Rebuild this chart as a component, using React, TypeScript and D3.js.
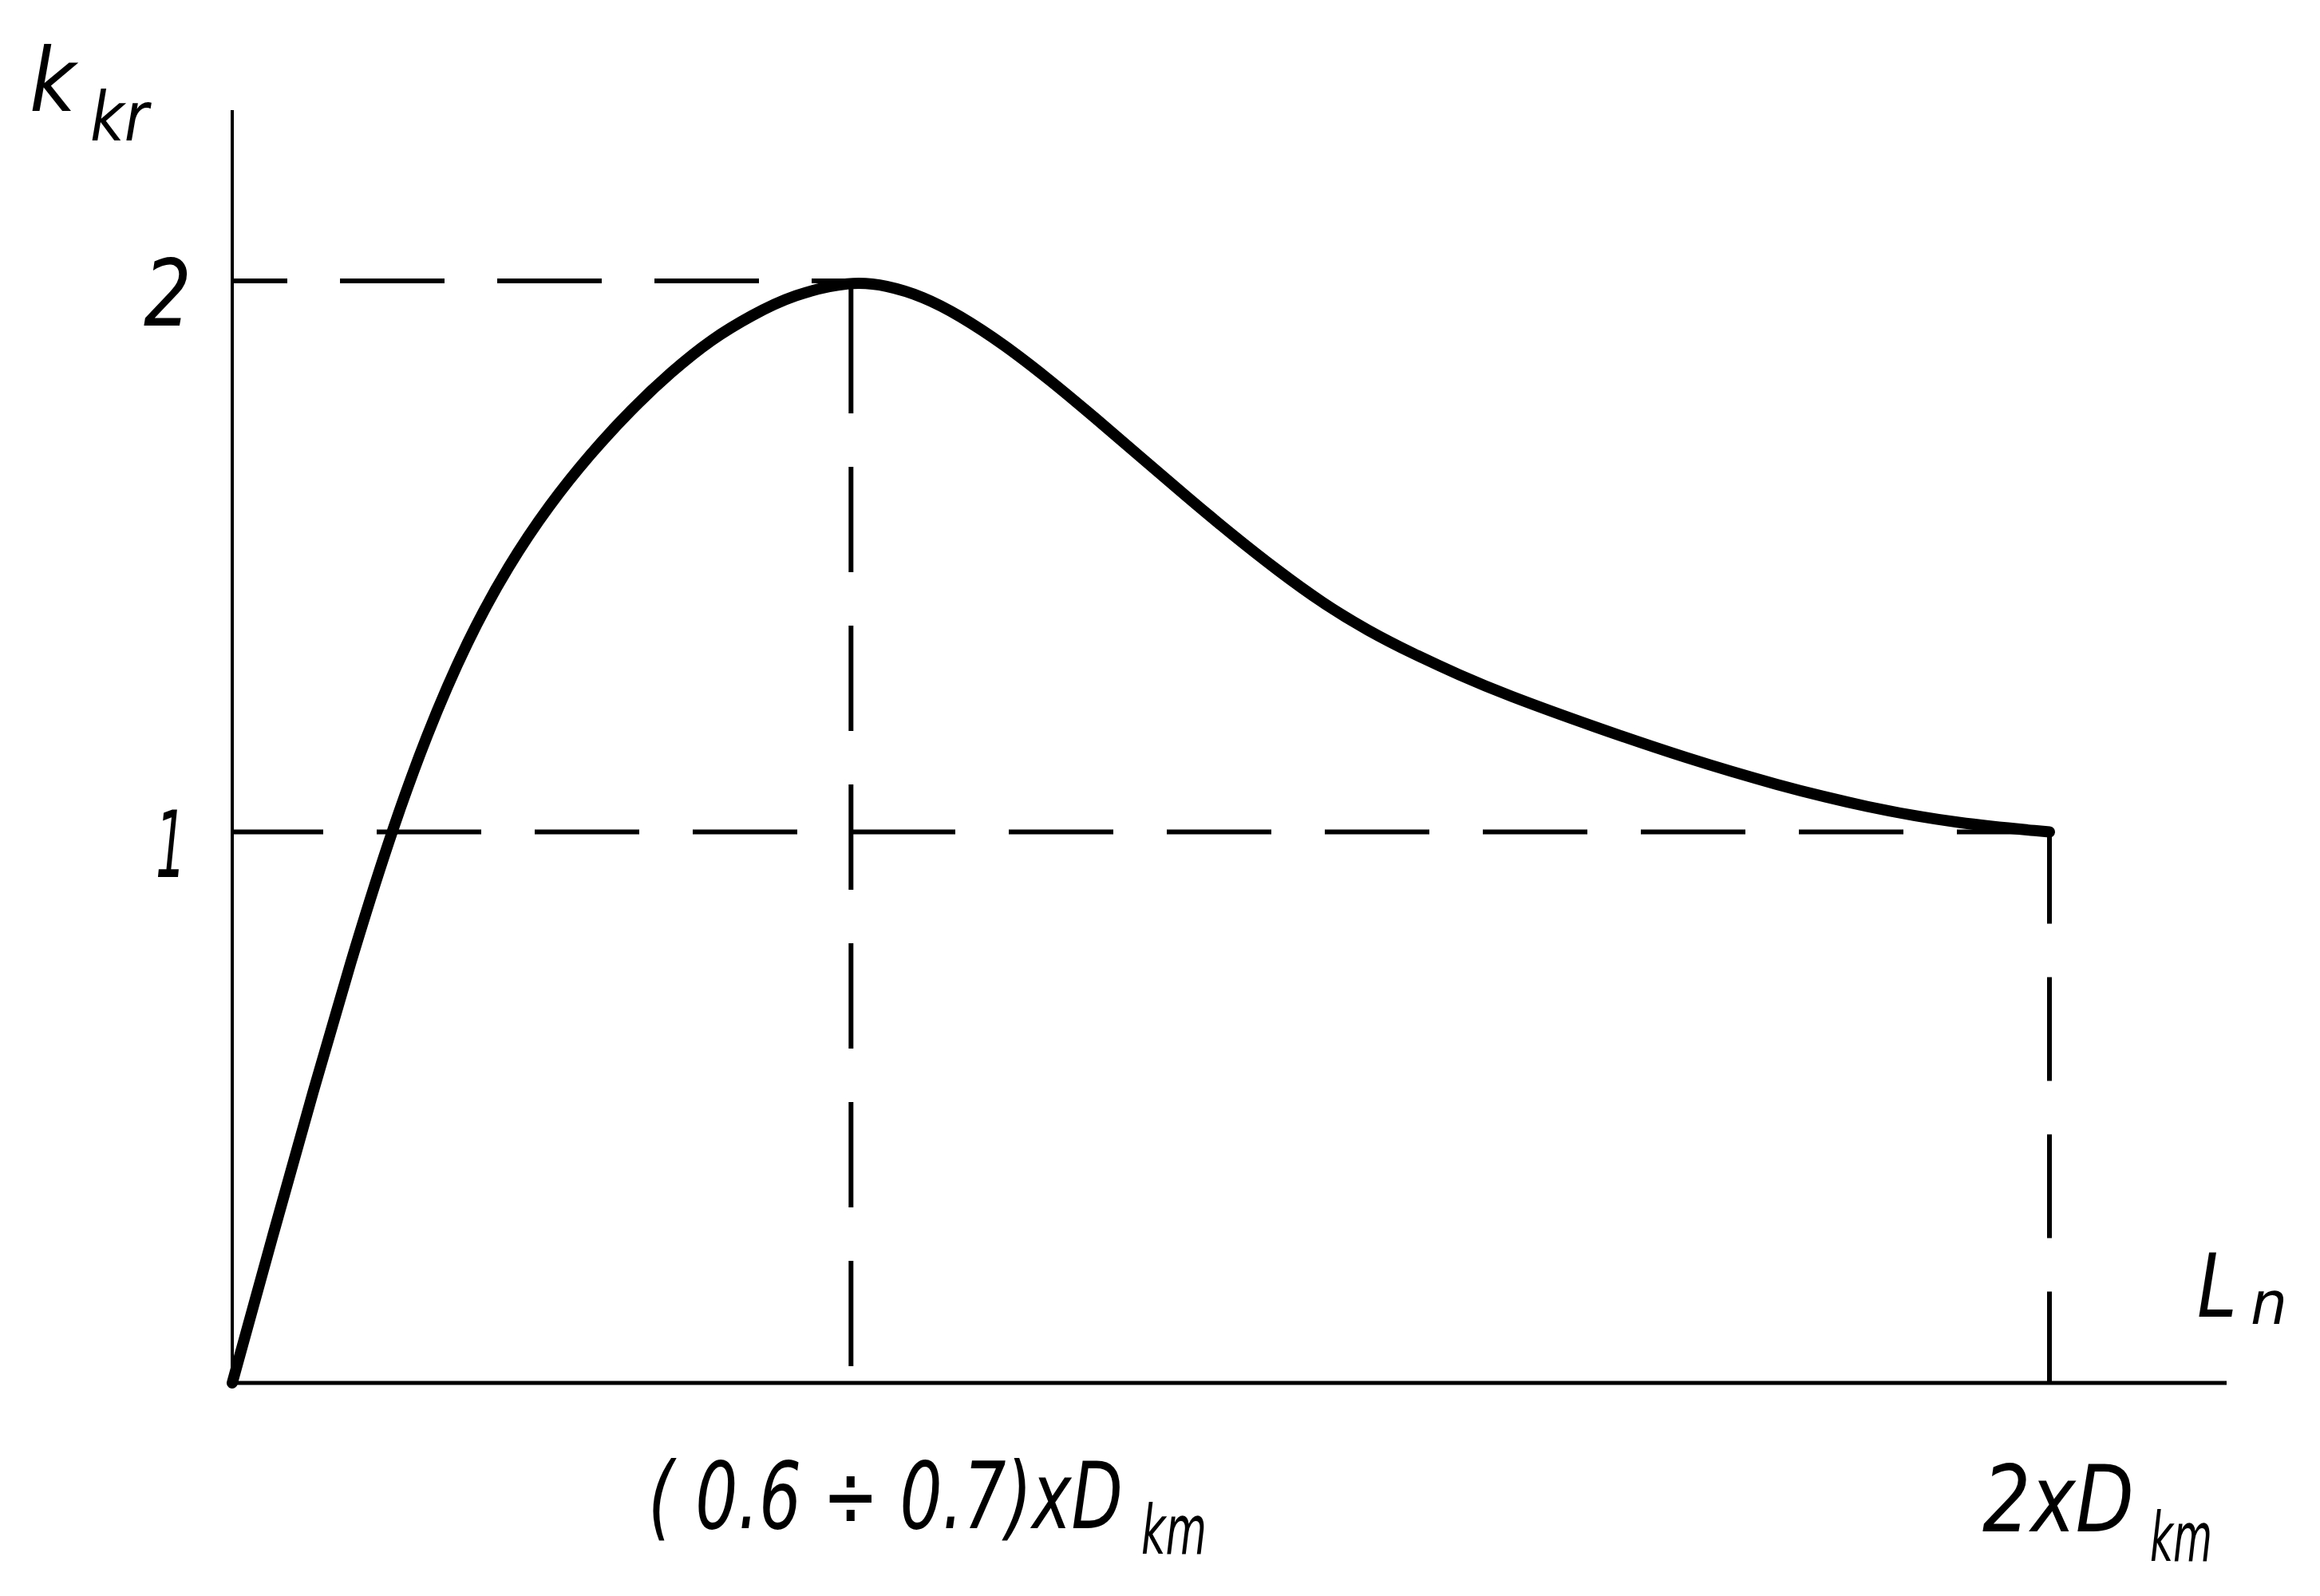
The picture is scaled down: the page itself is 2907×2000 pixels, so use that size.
import React, { useLayoutEffect, useRef, useState } from "react";
import * as d3 from "d3";

// Curve k_kr vs L_n (x in units of D_km)
const curveX = [0, 0.045, 0.09, 0.13, 0.172, 0.214, 0.259, 0.304, 0.349, 0.394, 0.438, 0.483, 0.528, 0.572, 0.617, 0.681, 0.72, 0.76, 0.8, 0.85, 0.9, 0.95, 1.0, 1.05, 1.1, 1.15, 1.2, 1.25, 1.3, 1.35, 1.4, 1.5, 1.6, 1.7, 1.8, 1.9, 2.0];
const curveY = [0, 0.27, 0.535, 0.763, 0.985, 1.178, 1.349, 1.484, 1.594, 1.686, 1.765, 1.835, 1.895, 1.938, 1.975, 2.0, 1.992, 1.972, 1.938, 1.884, 1.82, 1.751, 1.68, 1.609, 1.54, 1.475, 1.415, 1.365, 1.323, 1.285, 1.25, 1.19, 1.134, 1.085, 1.044, 1.015, 1.0];
const peakX = 0.681;
const endX = 2.0;
const yTicks = [1, 2];
const yTickLabels = ["1", "2"];

const W = 2907;
const H = 2000;

// CAD-style dash array: first dash, then gap/dash repeating
function cadDash(len: number, first: number, dash: number, gap: number): string {
  const arr: number[] = [first];
  let pos = first;
  let isGap = true;
  while (pos < len) {
    const seg = isGap ? gap : dash;
    arr.push(seg);
    pos += seg;
    isGap = !isGap;
  }
  if (arr.length % 2 === 1) arr.push(gap);
  return arr.join(" ");
}

const FONT = "'DejaVu Sans', sans-serif";

function FitText({ s, x, y, size, len }: { s: string; x: number; y: number; size: number; len: number }) {
  const ref = useRef<SVGTextElement>(null);
  const [sx, setSx] = useState(0.6);
  useLayoutEffect(() => {
    if (ref.current) {
      const w = ref.current.getComputedTextLength();
      if (w > 0) setSx(len / w);
    }
  }, [s, size, len]);
  return (
    <g transform={`translate(${x},${y}) scale(${sx},1)`}>
      <text ref={ref} x={0} y={0} fontFamily={FONT} fontStyle="italic" fontSize={size} fill="#000">
        {s}
      </text>
    </g>
  );
}

export default function App() {
  const x = d3.scaleLinear().domain([0, 2]).range([291, 2568]);
  const y = d3.scaleLinear().domain([0, 2]).range([1733, 352]);
  const xMax = 2.195;
  const yMax = 2.31;
  const pts: [number, number][] = curveX.map((v, i) => [v, curveY[i]]);
  const line = d3
    .line<[number, number]>()
    .x((d) => x(d[0]))
    .y((d) => y(d[1]))
    .curve(d3.curveBasis);
  const h2Len = x(peakX) - x(0);
  const h1Len = x(endX) - x(0);
  const vPeakLen = y(0) - y(2);
  const vEndLen = y(0) - y(1);
  const dashW = 6;
  return (
    <svg
      width={W}
      height={H}
      style={{ position: "absolute", left: 0, top: 0, background: "#fff" }}
    >
      <rect x={0} y={0} width={W} height={H} fill="#fff" />
      {/* axes */}
      <line x1={x(0)} y1={y(0)} x2={x(0)} y2={y(yMax)} stroke="#000" strokeWidth={4} />
      <line x1={x(0)} y1={y(0)} x2={x(xMax)} y2={y(0)} stroke="#000" strokeWidth={5} />
      {/* dashed guides */}
      <line x1={x(0)} y1={y(2)} x2={x(peakX)} y2={y(2)} stroke="#000" strokeWidth={dashW} strokeDasharray={cadDash(h2Len, 69, 131, 66)} />
      <line x1={x(0)} y1={y(1)} x2={x(endX)} y2={y(1)} stroke="#000" strokeWidth={dashW} strokeDasharray={cadDash(h1Len, 114, 131, 67)} />
      <line x1={x(peakX)} y1={y(2)} x2={x(peakX)} y2={y(0)} stroke="#000" strokeWidth={dashW} strokeDasharray={cadDash(vPeakLen, 166, 132, 67)} />
      <line x1={x(endX)} y1={y(1)} x2={x(endX)} y2={y(0)} stroke="#000" strokeWidth={dashW} strokeDasharray={cadDash(vEndLen, 115, 130, 67)} />
      {/* curve */}
      <path d={line(pts) || ""} fill="none" stroke="#000" strokeWidth={14} strokeLinecap="round" strokeLinejoin="round" />
      {/* y tick labels */}
      {yTicks.map((t, i) => (
        <FitText key={"yl" + t} s={yTickLabels[i]} x={t === 2 ? 180 : 195} y={y(t) + 56} size={115} len={t === 2 ? 60 : 38} />
      ))}
      {/* axis titles */}
      <FitText s="k" x={37} y={139} size={110} len={58} />
      <FitText s="kr" x={113} y={176} size={85} len={73} />
      <FitText s="L" x={2753} y={1650} size={110} len={50} />
      <FitText s="n" x={2820} y={1659} size={75} len={46} />
      {/* x labels */}
      <FitText s="( 0.6 ÷ 0.7)xD" x={812} y={1915} size={115} len={595} />
      <FitText s="km" x={1430} y={1947} size={85} len={82} />
      <FitText s="2xD" x={2484} y={1919} size={115} len={190} />
      <FitText s="km" x={2694} y={1956} size={85} len={78} />
    </svg>
  );
}
